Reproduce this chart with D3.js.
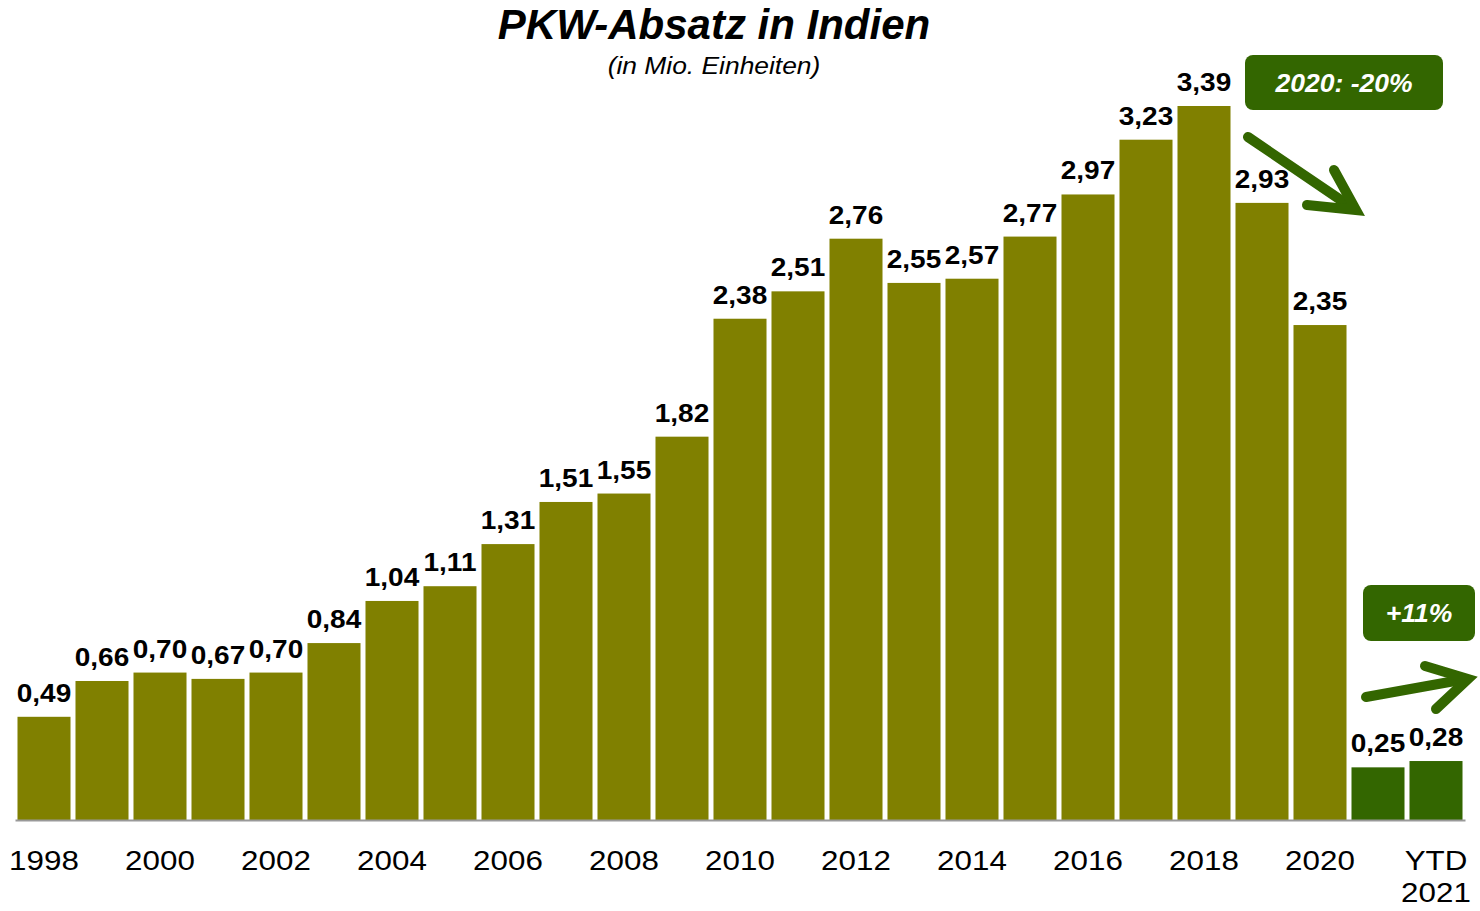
<!DOCTYPE html>
<html>
<head>
<meta charset="utf-8">
<script src="https://cdn.jsdelivr.net/npm/d3@7"></script>
<style>
  body { margin: 0; background: #fff; }
  text { font-family: "Liberation Sans", Arial, sans-serif; }
</style>
</head>
<body>
<svg></svg>
<script>
var width = 1480;
var height = 911;

// data
var years = ["1998", "1999", "2000", "2001", "2002", "2003", "2004", "2005", "2006", "2007",
    "2008", "2009", "2010", "2011", "2012", "2013", "2014", "2015", "2016", "2017",
    "2018", "2019", "2020", "YTD1", "YTD2"];
var sales = [0.49, 0.66, 0.70, 0.67, 0.70, 0.84, 1.04, 1.11, 1.31, 1.51,
    1.55, 1.82, 2.38, 2.51, 2.76, 2.55, 2.57, 2.77, 2.97, 3.23,
    3.39, 2.93, 2.35, 0.25, 0.28];
var tickLabels = {"1998": "1998", "2000": "2000", "2002": "2002", "2004": "2004", "2006": "2006",
    "2008": "2008", "2010": "2010", "2012": "2012", "2014": "2014", "2016": "2016",
    "2018": "2018", "2020": "2020", "YTD2": "YTD|2021"};

var olive = "#808000";
var green = "#336600";

const svg = d3.select('svg')
    .attr('width', width)
    .attr('height', height);

const x = d3.scaleBand()
    .domain(years)
    .range([15, 1465])
    .paddingInner(0.086)
    .paddingOuter(0.043);

const y = d3.scaleLinear()
    .domain([0, 3.39])
    .range([820, 106]);

const fmt = v => d3.format(".2f")(v).replace(".", ",");

// text helper, the source text looks a bit wider than plain Arial
function label(px, py, txt, size, sx) {
    return svg.append('text')
        .attr('transform', `translate(${px},${py}) scale(${sx},1)`)
        .attr('text-anchor', 'middle')
        .attr('font-size', size)
        .text(txt);
}

// bars
svg.selectAll('rect.bar')
    .data(years)
    .enter().append('rect')
    .attr('class', 'bar')
    .attr('x', d => x(d))
    .attr('y', (d, i) => y(sales[i]))
    .attr('width', x.bandwidth())
    .attr('height', (d, i) => y(0) - y(sales[i]))
    .attr('fill', d => d.startsWith("YTD") ? green : olive);

// value labels
years.forEach(function(d, i) {
    label(x(d) + x.bandwidth() / 2, y(sales[i]) - 15, fmt(sales[i]), 25, 1.12)
        .attr('font-weight', 'bold');
});

// axis
const axis = svg.append('g')
    .attr('transform', 'translate(0,820)')
    .call(d3.axisBottom(x).tickSize(0).tickFormat(''));
axis.select('.domain').attr('stroke', '#999').attr('stroke-width', 2);

Object.keys(tickLabels).forEach(function(k) {
    tickLabels[k].split("|").forEach(function(l, i) {
        label(x(k) + x.bandwidth() / 2, 870 + i * 32, l, 28, 1.12);
    });
});

// title
label(714, 39, 'PKW-Absatz in Indien', 42, 1.0)
    .attr('font-weight', 'bold')
    .attr('font-style', 'italic');
label(714, 74, '(in Mio. Einheiten)', 24, 1.1)
    .attr('font-style', 'italic');

// callout boxes
function callout(x0, y0, w, h, txt) {
    svg.append('rect')
        .attr('x', x0).attr('y', y0)
        .attr('width', w).attr('height', h)
        .attr('rx', 8)
        .attr('fill', green);
    label(x0 + w / 2, y0 + h / 2 + 9, txt, 25, 1.06)
        .attr('font-weight', 'bold')
        .attr('font-style', 'italic')
        .attr('fill', '#fff');
}
callout(1245, 55, 198, 55, '2020: -20%');
callout(1363, 585, 112, 56, '+11%');

// arrows
function arrow(pts) {
    svg.append('path')
        .attr('d', d3.line()(pts))
        .attr('fill', 'none')
        .attr('stroke', green)
        .attr('stroke-width', 10)
        .attr('stroke-linecap', 'round')
        .attr('stroke-linejoin', 'miter');
}
arrow([[1248, 137], [1354, 209]]);
arrow([[1334, 170], [1356, 210], [1307, 205]]);
arrow([[1366, 697], [1466, 679]]);
arrow([[1425, 666], [1468, 679], [1436, 709]]);
</script>
</body>
</html>
